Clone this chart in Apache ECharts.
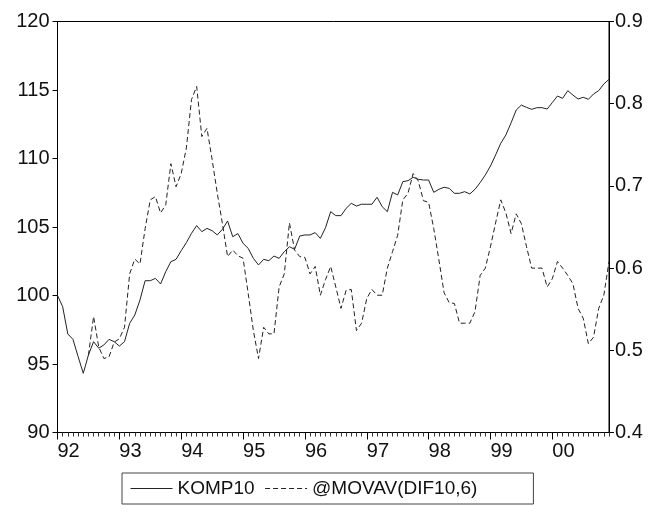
<!DOCTYPE html>
<html>
<head>
<meta charset="utf-8">
<script src="https://cdn.jsdelivr.net/npm/echarts@6/dist/echarts.min.js"></script>
<style>html,body{margin:0;padding:0;background:#fff}#c{width:655px;height:527px}</style>
</head>
<body>
<div id="c"></div>
<script>
const years = [1992,1993,1994,1995,1996,1997,1998,1999,2000];
const yearLabels = ['92','93','94','95','96','97','98','99','00'];
const months = [];
years.forEach(y => { for (let m = 1; m <= 12; m++) months.push(y + '-' + (m < 10 ? '0' + m : m)); });

const komp10 = [
100.0,99.19,97.19,96.80,95.54,94.32,95.66,96.63,96.15,96.39,96.80,96.63,
96.31,96.63,97.97,98.58,99.67,101.08,101.08,101.25,100.84,101.74,102.47,102.64,
103.27,103.86,104.54,105.10,104.66,104.90,104.73,104.42,104.83,105.44,104.29,104.52,
103.81,103.44,102.71,102.23,102.64,102.54,102.88,102.71,103.20,103.56,103.37,104.34,
104.42,104.42,104.59,104.17,104.95,106.12,105.83,105.83,106.36,106.73,106.53,106.66,
106.66,106.66,107.17,106.48,106.12,107.53,107.34,108.31,108.38,108.63,108.48,108.43,
108.43,107.53,107.75,107.90,107.82,107.46,107.46,107.58,107.41,107.75,108.24,108.80,
109.45,110.26,111.11,111.72,112.60,113.54,113.90,113.73,113.59,113.71,113.71,113.61,
114.08,114.56,114.39,114.95,114.63,114.34,114.47,114.32,114.71,114.95,115.44,115.78
];

const movav = [
null,null,null,null,null,null,0.494,0.541,0.504,0.490,0.492,0.510,
0.514,0.528,0.593,0.611,0.605,0.648,0.683,0.687,0.667,0.677,0.727,0.699,
0.715,0.746,0.805,0.821,0.760,0.770,0.732,0.691,0.654,0.614,0.622,0.615,
0.612,0.569,0.524,0.490,0.528,0.520,0.520,0.577,0.593,0.655,0.622,0.614,
0.613,0.593,0.602,0.567,0.586,0.602,0.577,0.551,0.573,0.574,0.524,0.533,
0.563,0.574,0.567,0.567,0.600,0.620,0.640,0.683,0.691,0.715,0.706,0.682,
0.680,0.648,0.610,0.570,0.558,0.557,0.533,0.533,0.533,0.547,0.591,0.600,
0.626,0.655,0.683,0.667,0.642,0.666,0.654,0.626,0.600,0.600,0.600,0.577,
0.587,0.608,0.600,0.591,0.581,0.551,0.539,0.508,0.516,0.551,0.567,0.608
];

const leftTicks = {min: 90, max: 120, interval: 5};
const rightTicks = {min: 0.4, max: 0.9, interval: 0.1};

const FONT = '"Liberation Sans", Arial, sans-serif';
const isJan = (i) => i % 12 === 0;

const chart = echarts.init(document.getElementById('c'), null, {renderer: 'canvas'});
chart.setOption({
  animation: false,
  backgroundColor: '#fff',
  grid: {left: 57.5, right: 46, top: 21.5, bottom: 94.5, show: true, borderColor: '#000', borderWidth: 1, backgroundColor: 'transparent'},
  legend: {
    data: ['KOMP10', '@MOVAV(DIF10,6)'],
    left: 122, top: 473,
    itemWidth: 42, itemHeight: 12, itemGap: 10,
    padding: [6, 56, 6, 8],
    borderColor: '#444', borderWidth: 1, borderRadius: 0,
    itemStyle: {opacity: 0},
    lineStyle: {width: 1, color: 'inherit', type: 'inherit'},
    textStyle: {fontFamily: FONT, fontSize: 19, color: '#111'}
  },
  xAxis: [{
    type: 'category', data: months, boundaryGap: false, position: 'bottom',
    axisLine: {show: true, lineStyle: {color: '#000', width: 1}},
    axisTick: {show: true, interval: 0, length: 4, inside: false, lineStyle: {color: '#333'}},
    axisLabel: {show: false},
    splitLine: {show: false}
  }, {
    type: 'category', data: months, boundaryGap: false, position: 'bottom',
    axisLine: {show: false},
    axisTick: {show: true, interval: (i) => isJan(i), length: 7, lineStyle: {color: '#000'}},
    axisLabel: {
      show: true, interval: (i) => isJan(i), align: 'left', margin: 9,
      fontFamily: FONT, fontSize: 20, color: '#111',
      formatter: (v) => yearLabels[years.indexOf(+v.slice(0, 4))]
    },
    splitLine: {show: false}
  }],
  yAxis: [{
    type: 'value', position: 'left', min: leftTicks.min, max: leftTicks.max, interval: leftTicks.interval,
    axisLine: {show: true, lineStyle: {color: '#000'}},
    axisTick: {show: true, length: 5, lineStyle: {color: '#000'}},
    axisLabel: {fontFamily: FONT, fontSize: 20, color: '#111', margin: 8},
    splitLine: {show: false}
  }, {
    type: 'value', position: 'right', min: rightTicks.min, max: rightTicks.max, interval: rightTicks.interval,
    axisLine: {show: true, lineStyle: {color: '#000'}},
    axisTick: {show: true, length: 5, lineStyle: {color: '#000'}},
    axisLabel: {fontFamily: FONT, fontSize: 20, color: '#111', margin: 6, formatter: (v) => v.toFixed(1)},
    splitLine: {show: false}
  }],
  series: [{
    name: 'KOMP10', type: 'line', data: komp10, xAxisIndex: 0, yAxisIndex: 0,
    symbol: 'none', lineStyle: {color: '#222', width: 1}, itemStyle: {color: '#222'}
  }, {
    name: '@MOVAV(DIF10,6)', type: 'line', data: movav, xAxisIndex: 0, yAxisIndex: 1,
    symbol: 'none', connectNulls: false,
    lineStyle: {color: '#222', width: 1, type: [5, 3]}, itemStyle: {color: '#222'}
  }]
});
</script>
</body>
</html>
